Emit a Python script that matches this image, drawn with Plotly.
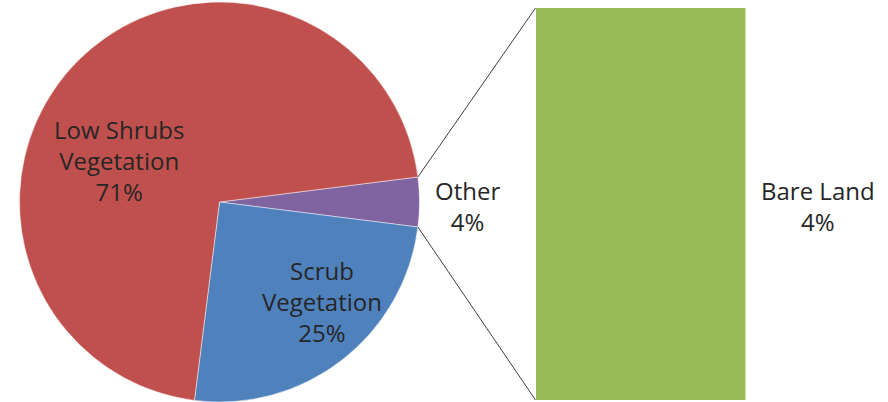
import math
import plotly.graph_objects as go

# ---- data ----
pie_labels = ["Other", "Scrub Vegetation", "Low Shrubs Vegetation"]
pie_text = ["Other", "Scrub<br>Vegetation", "Low Shrubs<br>Vegetation"]
pie_values = [4, 25, 71]
pie_colors = ["#8064A2", "#4F81BD", "#C0504D"]

bar_labels = ["Bare Land"]
bar_values = [4]
bar_colors = ["#9BBB59"]

W, H = 888, 402
FONT = "Open Sans"
FS = 24

# pie geometry (pixels, from top-left)
cx, cy, r = 219.5, 202.0, 200.0
other_share = pie_values[0] / sum(pie_values)
half = other_share * 360 / 2
rotation = 90 - half

fig = go.Figure()
fig.add_trace(go.Pie(
    labels=pie_labels, values=pie_values, sort=False, direction="clockwise",
    rotation=rotation, textinfo="none", hoverinfo="label+percent",
    marker=dict(colors=pie_colors, line=dict(color="rgba(255,255,255,0.6)", width=0.8)),
    domain=dict(x=[(cx - r) / W, (cx + r) / W], y=[(H - cy - r) / H, (H - cy + r) / H]),
    showlegend=False,
))

# bar of the "Other" slice
bx0, bx1, by0, by1 = 535.5, 745.5, 8.0, 400.0
fig.add_trace(go.Bar(
    x=bar_labels, y=bar_values, marker=dict(color=bar_colors, line=dict(width=0)),
    xaxis="x", yaxis="y", showlegend=False, hoverinfo="x+y",
))

fig.update_layout(
    width=W, height=H, margin=dict(l=0, r=0, t=0, b=0),
    paper_bgcolor="white", plot_bgcolor="rgba(0,0,0,0)",
    bargap=0,
    xaxis=dict(domain=[bx0 / W, bx1 / W], visible=False, fixedrange=True),
    yaxis=dict(domain=[(H - by1) / H, (H - by0) / H], range=[0, sum(bar_values)],
               visible=False, fixedrange=True),
    font=dict(family=FONT, color="#262626"),
)

# connector lines from "Other" slice edges to bar corners
a = math.radians(half)
p_top = (cx + r * math.cos(a), cy - r * math.sin(a))
p_bot = (cx + r * math.cos(a), cy + r * math.sin(a))
for (px, py), (qx, qy) in [(p_top, (bx0, by0)), (p_bot, (bx0, by1))]:
    fig.add_shape(type="line", xref="paper", yref="paper",
                  x0=px / W, y0=1 - py / H, x1=qx / W, y1=1 - qy / H,
                  line=dict(color="#404040", width=1))

def pct(v, tot):
    return f"{round(100 * v / tot)}%"

tot = sum(pie_values)
label_pos = [(468, 206), (322, 301), (119, 160)]
for txt, v, (x, y) in zip(pie_text, pie_values, label_pos):
    fig.add_annotation(x=x / W, y=1 - y / H, xref="paper", yref="paper",
                       text=f"{txt}<br>{pct(v, tot)}", showarrow=False,
                       font=dict(size=FS, family=FONT, color="#262626"),
                       xanchor="center", yanchor="middle", align="center")

for lab, v in zip(bar_labels, bar_values):
    fig.add_annotation(x=818 / W, y=1 - 206 / H, xref="paper", yref="paper",
                       text=f"{lab}<br>{round(100 * v / tot)}%", showarrow=False,
                       font=dict(size=FS, family=FONT, color="#262626"),
                       xanchor="center", yanchor="middle", align="center")

fig.write_html("out.html", config={"displayModeBar": False},
               post_script="document.body.style.margin='0';document.body.style.overflow='hidden';")
